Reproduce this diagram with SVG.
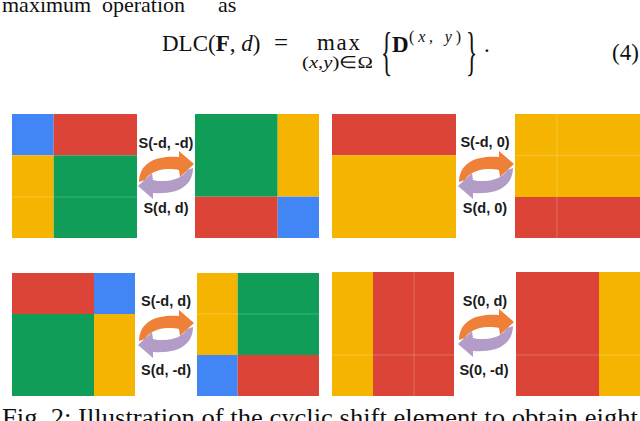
<svg xmlns="http://www.w3.org/2000/svg" width="640" height="421" viewBox="0 0 640 421">
<style>
.txt{font-family:"Liberation Serif","Times New Roman",serif;fill:#111}
.lbl{font-family:"Liberation Sans",Arial,sans-serif;font-weight:bold;font-size:14.5px;fill:#1a1a1a;text-anchor:middle}
.b{fill:#4285F4}.r{fill:#DB4437}.y{fill:#F4B400}.g{fill:#0F9D58}
.f{stroke:#ffffff;stroke-opacity:0.22;stroke-width:1;fill:none}
</style>
<defs>
<path id="orange" fill="#EF8038" d="M28,-12 L13,-25 L13,-19 C0,-20 -14,-18 -21,-10 C-25,-6 -27,0 -27,6 L-21,4 C-17,-3 -8,-7 2,-7 C7,-7 10,-7 13,-6 L14,1 Z"/>
<path id="purple" fill="#B39DC8" transform="rotate(180)" d="M28,-12 L13,-25 L13,-19 C0,-20 -14,-18 -21,-10 C-25,-6 -27,0 -27,6 L-21,4 C-17,-3 -8,-7 2,-7 C7,-7 10,-7 13,-6 L14,1 Z"/>
</defs>
<rect width="640" height="421" fill="#ffffff"/>

<g id="text-top">
<text class="txt" x="2" y="12" font-size="22">maximum</text>
<text class="txt" x="102" y="12" font-size="22">operation</text>
<text class="txt" x="218" y="12" font-size="22">as</text>
<text class="txt" x="162" y="51" font-size="23">DLC(<tspan font-weight="bold">F</tspan>, <tspan font-style="italic">d</tspan>)</text>
<text class="txt" x="274" y="51" font-size="25">=</text>
<text class="txt" x="317" y="50" font-size="23" textLength="43">max</text>
<text class="txt" x="302" y="68" font-size="17" textLength="71" lengthAdjust="spacingAndGlyphs">(<tspan font-style="italic">x</tspan>,<tspan font-style="italic">y</tspan>)∈Ω</text>
<text class="txt" x="0" y="0" font-size="52" transform="translate(381,69) scale(0.45,1)">{</text>
<text class="txt" x="392" y="52" font-size="23" font-weight="bold">D</text>
<text class="txt" x="409" y="42" font-size="16" textLength="52" lengthAdjust="spacing">(<tspan font-style="italic">x</tspan>, <tspan font-style="italic">y</tspan>)</text>
<text class="txt" x="0" y="0" font-size="52" transform="translate(466,69) scale(0.45,1)">}</text>
<text class="txt" x="484" y="52" font-size="23">.</text>
<text class="txt" x="612" y="60" font-size="23">(4)</text>
</g>

<g id="p1-left">
<rect class="b" x="12" y="114" width="41.7" height="41.3"/>
<rect class="r" x="53.7" y="114" width="83.3" height="41.3"/>
<rect class="y" x="12" y="155.3" width="41.7" height="82.7"/>
<rect class="g" x="53.7" y="155.3" width="83.3" height="82.7"/>
<path class="f" d="M12,197 H137"/>
</g>
<g id="p1-right">
<rect class="g" x="195" y="114" width="82.7" height="82.7"/>
<rect class="y" x="277.7" y="114" width="41.3" height="82.7"/>
<rect class="r" x="195" y="196.7" width="82.7" height="41.3"/>
<rect class="b" x="277.7" y="196.7" width="41.3" height="41.3"/>
</g>

<g id="p2-left">
<rect class="r" x="332" y="114" width="124" height="41.3"/>
<rect class="y" x="332" y="155.3" width="124" height="82.7"/>
</g>
<g id="p2-right">
<rect class="y" x="515" y="114" width="125" height="83"/>
<rect class="r" x="515" y="197" width="125" height="41"/>
<path class="f" d="M557,114 V238 M515,155.5 H640"/>
</g>

<g id="p3-left">
<rect class="r" x="12" y="273" width="82" height="41"/>
<rect class="b" x="94" y="273" width="41" height="41"/>
<rect class="g" x="12" y="314" width="82" height="82"/>
<rect class="y" x="94" y="314" width="41" height="82"/>
</g>
<g id="p3-right">
<rect class="y" x="197" y="273" width="40.7" height="82"/>
<rect class="g" x="237.7" y="273" width="81.3" height="82"/>
<rect class="b" x="197" y="355" width="40.7" height="41"/>
<rect class="r" x="237.7" y="355" width="81.3" height="41"/>
<path class="f" d="M197,314 H319"/>
</g>

<g id="p4-left">
<rect class="y" x="332" y="272" width="41" height="124"/>
<rect class="r" x="373" y="272" width="81" height="124"/>
<path class="f" d="M414,272 V396 M332,355 H454"/>
</g>
<g id="p4-right">
<rect class="r" x="516" y="272" width="83" height="124"/>
<rect class="y" x="599" y="272" width="41" height="124"/>
<path class="f" d="M516,355 H640"/>
</g>

<g id="connectors">
<use href="#orange" transform="translate(166,176)"/>
<use href="#purple" transform="translate(166,174)"/>
<use href="#orange" transform="translate(486,176)"/>
<use href="#purple" transform="translate(486,174)"/>
<use href="#orange" transform="translate(166,335)"/>
<use href="#purple" transform="translate(166,333)"/>
<use href="#orange" transform="translate(486,334)"/>
<use href="#purple" transform="translate(486,332)"/>
<text class="lbl" x="166" y="148">S(-d, -d)</text>
<text class="lbl" x="166" y="213">S(d, d)</text>
<text class="lbl" x="485" y="147">S(-d, 0)</text>
<text class="lbl" x="485" y="213">S(d, 0)</text>
<text class="lbl" x="166" y="306">S(-d, d)</text>
<text class="lbl" x="166" y="375">S(d, -d)</text>
<text class="lbl" x="485" y="306">S(0, d)</text>
<text class="lbl" x="484" y="375">S(0, -d)</text>
</g>

<g id="caption">
<text class="txt" x="2" y="426" font-size="25" textLength="636" lengthAdjust="spacingAndGlyphs">Fig. 2: Illustration of the cyclic shift element to obtain eight</text>
</g>
</svg>
